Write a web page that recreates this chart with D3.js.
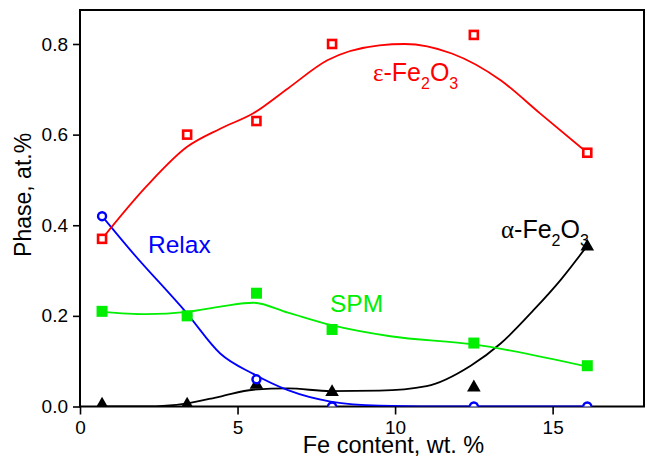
<!DOCTYPE html>
<html>
<head>
<meta charset="utf-8">
<script src="https://cdn.jsdelivr.net/npm/d3@7"></script>
<style>
    body { margin: 0; background: #fff; }
    text { font-family: "Liberation Sans", Arial, sans-serif; }
</style>
</head>
<body>
<div id="chart"></div>
<script>
// measured points (Fe content, wt.%)
var feContent = [0.7, 3.4, 5.6, 8.0, 12.5, 16.1];
var epsValues = [0.37, 0.60, 0.63, 0.80, 0.82, 0.56];
var relaxValues = [0.42, 0.20, 0.06, 0.0, 0.0, 0.0];
var spmValues = [0.21, 0.20, 0.25, 0.17, 0.14, 0.09];
var alphaValues = [0.004, 0.004, 0.048, 0.032, 0.042, 0.353];

// fitted curves
var epsFitX = [0.7, 2.1, 3.4, 4.45, 5.5, 6.6, 7.85, 9.5, 10.3, 11.8, 13.35, 14.6, 16.1];
var epsFitY = [0.37, 0.485, 0.573, 0.613, 0.647, 0.702, 0.764, 0.797, 0.80, 0.779, 0.72, 0.647, 0.56];
var relaxFitX = [0.7, 1.6, 3.4, 4.45, 5.5, 6.6, 7.95, 9.5, 12.0, 16.1];
var relaxFitY = [0.42, 0.345, 0.205, 0.117, 0.072, 0.036, 0.011, 0.002, 0.0, 0.0];
var spmFitX = [0.7, 2.1, 3.4, 4.5, 5.5, 6.6, 7.95, 9.85, 12.5, 16.1];
var spmFitY = [0.209, 0.204, 0.209, 0.221, 0.229, 0.207, 0.18, 0.155, 0.137, 0.088];
var alphaFitX = [0.7, 2.1, 3.4, 4.45, 5.5, 6.6, 7.95, 9.5, 11.0, 12.4, 13.35, 14.4, 15.25, 16.1];
var alphaFitY = [0.0, 0.0, 0.007, 0.022, 0.037, 0.040, 0.034, 0.035, 0.045, 0.09, 0.139, 0.213, 0.279, 0.355];

var xTicks = [0, 5, 10, 15];
var yTicks = [0.0, 0.2, 0.4, 0.6, 0.8];

PhaseChart = function(_parentElement) {
    vis = this;

    this.parentElement = _parentElement;
    this.svgWidth = 647;
    this.svgHeight = 456;
    this.margin = { top: 10, right: 3, bottom: 49.5, left: 80 };
    this.width = vis.svgWidth - vis.margin.left - vis.margin.right;
    this.height = vis.svgHeight - vis.margin.top - vis.margin.bottom;

    this.initVis();
};

PhaseChart.prototype.initVis = function() {
    vis = this;

    vis.svg = d3.select("#" + vis.parentElement).append("svg")
        .attr("width", vis.svgWidth)
        .attr("height", vis.svgHeight)
        .append("g")
        .attr("transform", "translate(" + vis.margin.left + "," + vis.margin.top + ")");

    vis.svg.append("clipPath")
        .attr("id", "plotClip")
        .append("rect")
        .attr("width", vis.width)
        .attr("height", vis.height);

    vis.x = d3.scaleLinear()
        .domain([0, 17.9])
        .range([0, vis.width]);

    vis.y = d3.scaleLinear()
        .domain([0, 0.875])
        .range([vis.height, 0]);

    vis.drawAxes();
    vis.drawCurves();
    vis.drawLabels();
    vis.drawMarkers();
};

PhaseChart.prototype.drawAxes = function() {
    vis = this;

    var xAxis = d3.axisBottom(vis.x).tickValues(xTicks).tickSize(8).tickPadding(6).tickFormat(d3.format("d"));
    var yAxis = d3.axisLeft(vis.y).tickValues(yTicks).tickSize(7).tickPadding(5).tickFormat(d3.format(".1f"));

    var gx = vis.svg.append("g")
        .attr("transform", "translate(0," + vis.height + ")")
        .call(xAxis);
    var gy = vis.svg.append("g").call(yAxis);

    [gx, gy].forEach(function(g) {
        g.select(".domain").remove();
        g.selectAll("line").attr("stroke", "#000").attr("stroke-width", 1.6);
        g.selectAll("text")
            .attr("font-size", "19px")
            .attr("font-family", "Liberation Sans, Arial, sans-serif")
            .attr("fill", "#000");
    });

    vis.svg.append("rect")
        .attr("width", vis.width)
        .attr("height", vis.height)
        .attr("fill", "none")
        .attr("stroke", "#000")
        .attr("stroke-width", 2);

    vis.svg.append("text")
        .attr("x", vis.x(9.95))
        .attr("y", vis.height + 46)
        .attr("text-anchor", "middle")
        .attr("font-size", "23.5px")
        .text("Fe content, wt. %");

    vis.svg.append("text")
        .attr("transform", "translate(" + (-49) + "," + vis.y(0.467) + ") rotate(-90)")
        .attr("text-anchor", "middle")
        .attr("font-size", "23px")
        .text("Phase, at.%");
};

PhaseChart.prototype.drawCurves = function() {
    vis = this;

    var line = d3.line()
        .x(function(d) { return vis.x(d[0]); })
        .y(function(d) { return vis.y(d[1]); })
        .curve(d3.curveMonotoneX);

    var curves = [
        { xs: alphaFitX, ys: alphaFitY, color: "#000000" },
        { xs: relaxFitX, ys: relaxFitY, color: "#0000ff" },
        { xs: spmFitX, ys: spmFitY, color: "#00ee00" },
        { xs: epsFitX, ys: epsFitY, color: "#ff0000" }
    ];

    var g = vis.svg.append("g").attr("clip-path", "url(#plotClip)");
    curves.forEach(function(c) {
        g.append("path")
            .datum(d3.zip(c.xs, c.ys))
            .attr("d", line)
            .attr("fill", "none")
            .attr("stroke", c.color)
            .attr("stroke-width", 1.8);
    });
};

PhaseChart.prototype.drawMarkers = function() {
    vis = this;

    var g = vis.svg.append("g").attr("clip-path", "url(#plotClip)");

    g.selectAll(".alpha").data(d3.zip(feContent, alphaValues)).enter()
        .append("path")
        .attr("class", "alpha")
        .attr("d", d3.symbol().type(d3.symbolTriangle).size(80))
        .attr("transform", function(d) { return "translate(" + vis.x(d[0]) + "," + vis.y(d[1]) + ")"; })
        .attr("fill", "#000");

    g.selectAll(".relax").data(d3.zip(feContent, relaxValues)).enter()
        .append("circle")
        .attr("class", "relax")
        .attr("cx", function(d) { return vis.x(d[0]); })
        .attr("cy", function(d) { return vis.y(d[1]); })
        .attr("r", 4)
        .attr("fill", "#fff")
        .attr("stroke", "#0000ff")
        .attr("stroke-width", 2.4);

    g.selectAll(".spm").data(d3.zip(feContent, spmValues)).enter()
        .append("rect")
        .attr("class", "spm")
        .attr("x", function(d) { return vis.x(d[0]) - 5.5; })
        .attr("y", function(d) { return vis.y(d[1]) - 5.5; })
        .attr("width", 11)
        .attr("height", 11)
        .attr("fill", "#00ee00");

    g.selectAll(".eps").data(d3.zip(feContent, epsValues)).enter()
        .append("rect")
        .attr("class", "eps")
        .attr("x", function(d) { return vis.x(d[0]) - 4; })
        .attr("y", function(d) { return vis.y(d[1]) - 4; })
        .attr("width", 8)
        .attr("height", 8)
        .attr("fill", "#fff")
        .attr("stroke", "#ff0000")
        .attr("stroke-width", 2.6);
};

PhaseChart.prototype.drawLabels = function() {
    vis = this;

    function oxide(x, y, greek, color) {
        var t = vis.svg.append("text")
            .attr("x", x)
            .attr("y", y)
            .attr("fill", color)
            .attr("font-size", "25px");
        t.append("tspan").attr("font-family", "Liberation Serif, serif").text(greek);
        t.append("tspan").text("-Fe");
        t.append("tspan").attr("font-size", "16px").attr("dy", 8).text("2");
        t.append("tspan").attr("dy", -8).text("O");
        t.append("tspan").attr("font-size", "16px").attr("dy", 8).text("3");
    }

    oxide(373 - vis.margin.left, 81 - vis.margin.top, "\u03b5", "#ff0000");
    oxide(501 - vis.margin.left, 238 - vis.margin.top, "\u03b1", "#000000");

    vis.svg.append("text")
        .attr("x", 148 - vis.margin.left)
        .attr("y", 253 - vis.margin.top)
        .attr("fill", "#0000ff")
        .attr("font-size", "24.5px")
        .text("Relax");

    vis.svg.append("text")
        .attr("x", 330 - vis.margin.left)
        .attr("y", 312 - vis.margin.top)
        .attr("fill", "#00ee00")
        .attr("font-size", "24.5px")
        .text("SPM");
};

new PhaseChart("chart");
</script>
</body>
</html>
